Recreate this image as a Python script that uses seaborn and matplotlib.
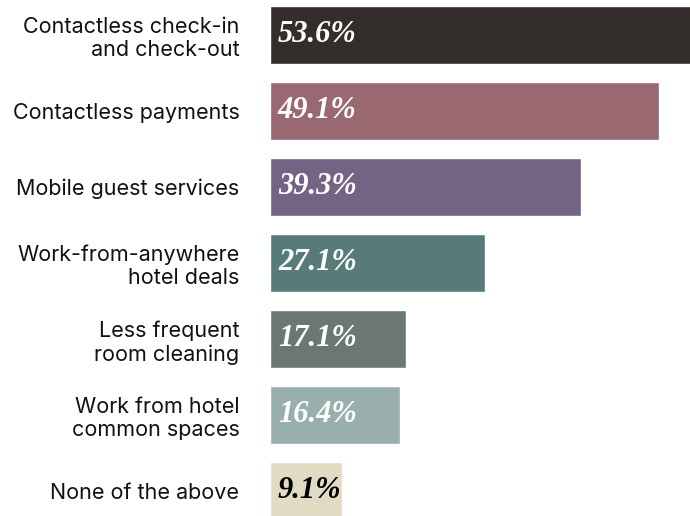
import matplotlib
matplotlib.use("Agg")
import matplotlib.pyplot as plt
import seaborn as sns
import pandas as pd

categories = [
    "Contactless check-in\nand check-out",
    "Contactless payments",
    "Mobile guest services",
    "Work-from-anywhere\nhotel deals",
    "Less frequent\nroom cleaning",
    "Work from hotel\ncommon spaces",
    "None of the above",
]
values = [53.6, 49.1, 39.3, 27.1, 17.1, 16.4, 9.1]
value_labels = ["53.6%", "49.1%", "39.3%", "27.1%", "17.1%", "16.4%", "9.1%"]
colors = ["#332e2b", "#9a6870", "#756383", "#567b78", "#6a7775", "#99afac", "#e2dbc3"]
label_colors = ["white"] * 6 + ["black"]

df = pd.DataFrame({"category": categories, "value": values})

sns.set_theme(style="white")
plt.rcParams["font.family"] = ["Inter", "DejaVu Sans"]

fig = plt.figure(figsize=(6.9, 5.16), dpi=100)
ax = fig.add_axes([270 / 690, 0, 1 - 270 / 690, 1])

sns.barplot(data=df, x="value", y="category", hue="category", palette=colors,
            legend=False, width=0.76, ax=ax, saturation=1)

ax.set_xlim(0, 53.0)
ax.set_ylim(6.33, -0.46)
ax.set_xlabel("")
ax.set_ylabel("")
ax.set_xticks([])
for s in ax.spines.values():
    s.set_visible(False)
ax.tick_params(axis="y", length=0, pad=22, labelsize=15.5, labelcolor="#111111")
for lbl in ax.get_yticklabels():
    lbl.set_horizontalalignment("right")

for i, (v, t, c) in enumerate(zip(values, value_labels, label_colors)):
    ax.text(1.0, i, t, color=c, va="center", ha="left",
            fontsize=22, fontweight="bold", fontstyle="italic",
            family=["Liberation Serif", "DejaVu Serif"])

fig.savefig("out.png", dpi=100)
